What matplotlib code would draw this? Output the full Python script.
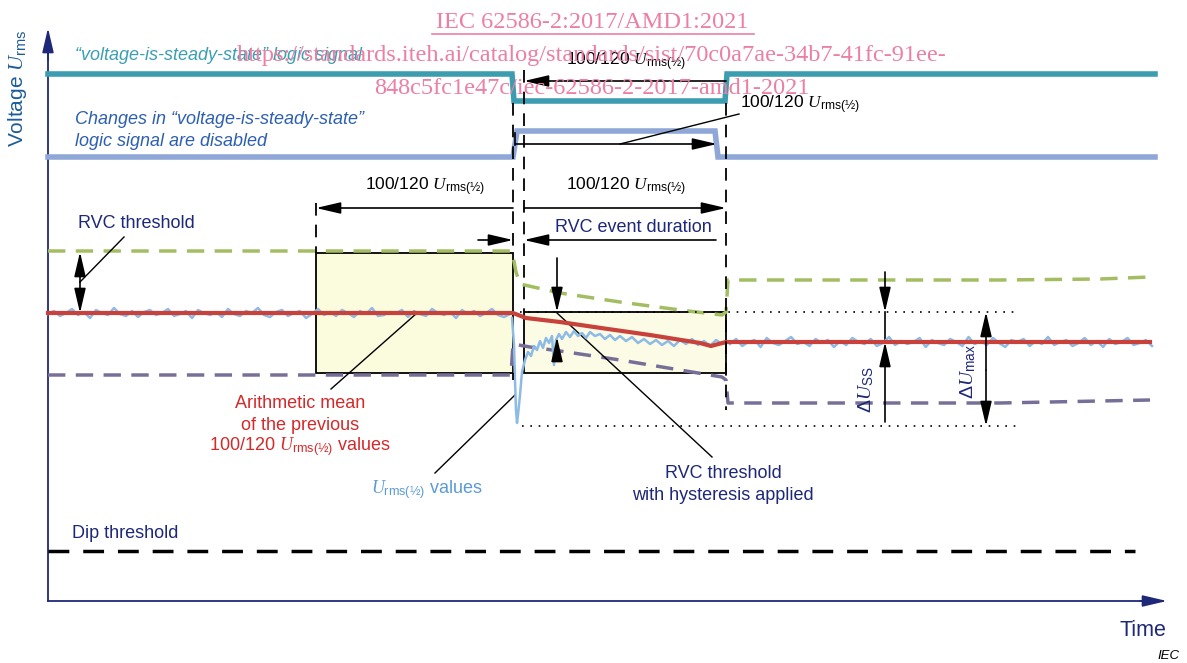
import numpy as np
import matplotlib
matplotlib.use("Agg")
from matplotlib import pyplot as plt
from matplotlib.patches import Rectangle

plt.rcParams['font.family'] = ['Liberation Sans', 'DejaVu Sans']
plt.rcParams['mathtext.fontset'] = 'custom'
plt.rcParams['mathtext.rm'] = 'Liberation Sans'
plt.rcParams['mathtext.it'] = 'Liberation Serif:italic'
plt.rcParams['mathtext.bf'] = 'Liberation Sans:bold'

# time marks of the event (schematic units)
t_start = 48
t_end = 1155
t_window1 = 316      # start of averaging window before the event
t_event = 513        # RVC detected
t_event2 = 524
t_window2 = 726      # end of the 100/120 half-cycle window after the event

# logic signals
steady_t = [48, 512, 514, 725, 727, 1155]
steady_v = [74, 74, 101, 101, 74, 74]
disabled_t = [48, 513, 517, 715, 718, 1155]
disabled_v = [157, 157, 131, 131, 157, 157]

# arithmetic mean of the previous 100/120 values
mean_t = [48, 513, 526, 560, 601, 650, 700, 711, 726, 1150]
mean_v = [313, 313, 318, 322, 328, 335, 343, 346, 342, 342]

# RVC threshold band (upper and lower)
upper_t = [48, 511, 513, 516, 520, 560, 620, 680, 722, 726, 728, 1000, 1100, 1150]
upper_v = [251, 251, 256, 272, 284, 293, 302, 310, 315, 312, 280, 280, 279, 277]
lower_t = [48, 511, 513, 530, 560, 620, 680, 722, 726, 728, 1000, 1100, 1150]
lower_v = [375, 375, 344, 347, 351, 360, 370, 377, 380, 403, 403, 401, 400]

# Urms(1/2) values
pre_level = 313
pre_noise = [1, -2, 3, 0, -4, 2, -1, 5, -3, 0,
             2, -5, 1, 3, -2, 4, -1, -3, 2, 0,
             -4, 3, 1, -2, 5, -3, 0, 2, -1, 4,
             -4, 1, 3, -2, 0, -5, 2, 4, -1, -3,
             3, 0, -2, 5, 1, -4, 2, -1, 3, -3,
             0, 4, -2, 1, -5, 3, 2, -1, 0, -3,
             4, -2, 1, 3, -4, 0, 2, -1, 5, -3,
             1, -2, 3, 0, -4, 2, 4, 1]
trans_t = [512, 514, 515, 516, 517, 518, 520, 522, 525, 528, 531, 534, 537, 540,
           543, 546, 549, 552, 554, 556, 559, 562, 566, 570, 574, 578, 582, 586,
           590, 595, 600, 605, 610, 615, 620, 626, 632, 638, 644, 650, 656, 662,
           668, 674, 680, 686, 692, 698, 704, 710, 716, 722, 728]
trans_v = [318, 345, 380, 410, 423, 415, 395, 372, 360, 352, 356, 346, 350, 341,
           348, 338, 343, 336, 365, 340, 334, 339, 332, 337, 331, 336, 333, 338,
           332, 336, 334, 339, 335, 340, 336, 341, 337, 343, 339, 344, 340, 345,
           341, 346, 340, 344, 339, 345, 341, 346, 340, 344, 342]
post_level = 342
post_noise = [2, -3, 4, 0, -2, 5, -4, 1, 3, -1,
              -5, 2, 0, 4, -3, 1, -2, 5, -1, 3,
              -4, 0, 2, -3, 4, 1, -5, 3, -1, 2,
              0, -4, 5, -2, 1, 3, -3, 0, 4, -5,
              2, -1, 3, -4, 1, 5, -2, 0, -3, 4,
              -1, 2, -5, 3, 0, -2, 4, 1, -4, 3,
              -1, 5, -3, 2, 0, -4, 3, 1, -2, 4]

dip_level = 551

navy = '#1e2878'
fig = plt.figure(figsize=(11.87, 6.63), dpi=100)
ax = fig.add_axes([0, 0, 1, 1])
ax.set_xlim(0, 1187)
ax.set_ylim(663, 0)
ax.axis('off')

def arrow(x0, y0, x1, y1, style='-|>', color='black', lw=1.2):
    ax.annotate('', xy=(x1, y1), xytext=(x0, y0),
                arrowprops=dict(arrowstyle=style + ',head_length=1.5,head_width=0.35',
                                mutation_scale=10, color=color, lw=lw,
                                shrinkA=0, shrinkB=0), zorder=6)

def vdash(x, y0, y1):
    ax.plot([x, x], [y0, y1], color='black', lw=1.3, dashes=(7, 5), zorder=5)

# axes
ax.plot([48, 48], [601, 45], color=navy, lw=1.3)
ax.plot([48, 1150], [601, 601], color=navy, lw=1.3)
arrow(48, 60, 48, 28, color=navy)
arrow(1140, 601, 1167, 601, color=navy)

# logic signals
ax.plot(steady_t, steady_v, color='#3c9db1', lw=4, solid_joinstyle='miter')
ax.plot(disabled_t, disabled_v, color='#8ea7d6', lw=4, solid_joinstyle='miter')

# averaging windows
ax.add_patch(Rectangle((t_window1, 253), t_event - t_window1, 120,
                       fc='#fbfbdd', ec='black', lw=1.3, zorder=1))
ax.add_patch(Rectangle((t_event2, 312), t_window2 - t_event2, 61,
                       fc='#fbfbe6', ec='black', lw=1.3, zorder=1))

# thresholds
ax.plot(upper_t, upper_v, color='#a3bd62', lw=2.5, dashes=(5, 3), zorder=2)
ax.plot(lower_t, lower_v, color='#776f98', lw=2.5, dashes=(5, 3), zorder=2)
ax.plot([t_start, 1135], [dip_level, dip_level], color='black', lw=2.5, dashes=(6, 4))

# Urms values and mean
ax.plot(np.linspace(48, 510, len(pre_noise)), pre_level + np.array(pre_noise),
        color='#8dbbe6', lw=1.8, zorder=3)
ax.plot(trans_t, trans_v, color='#8dbbe6', lw=1.8, zorder=3)
ax.plot(np.linspace(730, 1152, len(post_noise)), post_level + np.array(post_noise),
        color='#8dbbe6', lw=1.8, zorder=3)
ax.plot(mean_t, mean_v, color='#c8413a', lw=3, zorder=4)

# dotted reference levels
ax.plot([520, 1018], [312, 312], color='black', lw=1.2, dashes=(1, 4))
ax.plot([522, 1020], [426, 426], color='black', lw=1.2, dashes=(1, 4))

# vertical dashed markers
vdash(t_event, 103, 253)
vdash(t_event2, 70, 312)
vdash(t_window2, 103, 410)
vdash(t_window1, 203, 253)
vdash(t_event, 373, 380)

# dimension arrows
arrow(t_window2, 81, t_event2, 81)
ax.plot([515, 515], [133, 145], color='black', lw=1.2)
arrow(515, 144, 717, 144)
ax.plot([739, 620], [114, 144], color='black', lw=1)
arrow(t_event, 208, t_window1, 208)
arrow(t_event2, 208, t_window2, 208)
arrow(478, 240, t_event, 240)
arrow(716, 240, t_event2, 240)
arrow(80, 282, 80, 252)
arrow(80, 282, 80, 313)
ax.plot([124, 80], [237, 282], color='black', lw=1)
arrow(557, 258, 557, 312)
arrow(557, 357, 557, 337)
arrow(885, 272, 885, 312)
arrow(885, 422, 885, 342)
ax.plot([885, 885], [312, 342], color='black', lw=1.2)
arrow(986, 370, 986, 312)
arrow(986, 370, 986, 426)

# leader lines
ax.plot([331, 417], [389, 313], color='black', lw=1)
ax.plot([435, 515], [473, 395], color='black', lw=1)
ax.plot([557, 712], [313, 457], color='black', lw=1)

# texts
urms = r'$U_{\mathrm{rms(½)}}$'
ax.text(18, 88, r'Voltage $U_{\mathrm{rms}}$', rotation=90, ha='center', va='center',
        fontsize=15, color='#1d5c98')
ax.text(75, 55, '“voltage-is-steady-state” logic signal', style='italic',
        fontsize=13, color='#3a9fb2', va='center')
ax.text(75, 120, 'Changes in “voltage-is-steady-state”', style='italic',
        fontsize=13, color='#2d5fb0', va='center')
ax.text(75, 142, 'logic signal are disabled', style='italic',
        fontsize=13, color='#2d5fb0', va='center')
ax.text(566, 62, '100/120 ' + urms, fontsize=12.5, va='center')
ax.text(740, 105, '100/120 ' + urms, fontsize=12.5, va='center')
ax.text(365, 187, '100/120 ' + urms, fontsize=12.5, va='center')
ax.text(566, 187, '100/120 ' + urms, fontsize=12.5, va='center')
ax.text(555, 228, 'RVC event duration', fontsize=13, color=navy, va='center')
ax.text(78, 223, 'RVC threshold', fontsize=13, color=navy, va='center')
ax.text(300, 404, 'Arithmetic mean', fontsize=13, color='#d42a2a',
        ha='center', va='center')
ax.text(300, 426, 'of the previous', fontsize=13, color='#d42a2a',
        ha='center', va='center')
ax.text(300, 447, '100/120 ' + urms + ' values', fontsize=13,
        color='#d42a2a', ha='center', va='center')
ax.text(371, 490, urms + ' values', fontsize=13, color='#5b9bd5', va='center')
ax.text(723, 473, 'RVC threshold', fontsize=13, color=navy,
        ha='center', va='center')
ax.text(723, 495, 'with hysteresis applied', fontsize=13, color=navy,
        ha='center', va='center')
ax.text(72, 533, 'Dip threshold', fontsize=13, color=navy, va='center')
ax.text(866, 390, r'$\Delta U_{\mathrm{SS}}$', rotation=90, fontsize=14, color=navy,
        ha='center', va='center')
ax.text(968, 372, r'$\Delta U_{\mathrm{max}}$', rotation=90, fontsize=14, color=navy,
        ha='center', va='center')
ax.text(1143, 630, 'Time', fontsize=15.5, color=navy, ha='center', va='center')
ax.text(1180, 656, 'IEC', style='italic', fontsize=9.5, color='black', ha='right', va='center')

# catalogue stamp
pink = '#ec7fa3'
ax.text(592, 22, 'IEC 62586-2:2017/AMD1:2021', family='Liberation Serif', fontsize=17.5,
        color=pink, ha='center', va='center', zorder=8)
ax.plot([432, 754], [34, 34], color=pink, lw=1.2, zorder=8)
ax.text(592, 55, 'https://standards.iteh.ai/catalog/standards/sist/70c0a7ae-34b7-41fc-91ee-',
        family='Liberation Serif', fontsize=17.5, color=pink, ha='center', va='center', zorder=8)
ax.text(592, 88, '848c5fc1e47c/iec-62586-2-2017-amd1-2021', family='Liberation Serif',
        fontsize=17.5, color=pink, ha='center', va='center', zorder=8)

plt.savefig('out.png', dpi=100)
